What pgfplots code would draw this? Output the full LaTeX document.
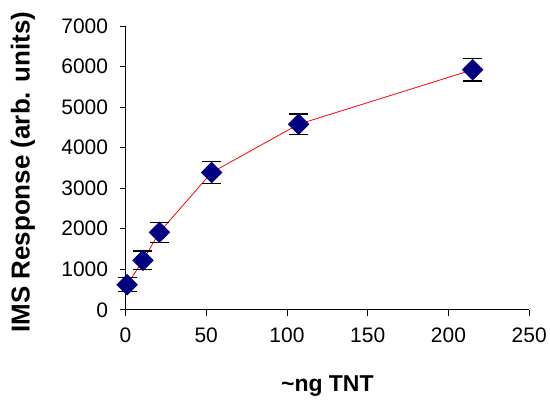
\documentclass[border=0pt]{standalone}
\usepackage{fontspec}
\setmainfont{Liberation Sans}
\usepackage{pgfplots}
\pgfplotsset{compat=1.18}
\definecolor{navy}{RGB}{0,0,128}
\begin{document}
\begin{tikzpicture}
\begin{axis}[
  scale only axis,
  width=404.3bp, height=284.3bp,
  xmin=0, xmax=250, ymin=0, ymax=7000,
  xtick={0,50,...,250}, ytick={0,1000,...,7000},
  axis lines=left,
  axis line style={line width=0.8bp, -},
  tick align=outside,
  major tick length=6bp,
  tick style={line width=0.8bp, black},
  clip=false,
  /pgf/number format/assume math mode=true,
  /pgf/number format/1000 sep={},
  tick label style={font=\fontsize{21bp}{25bp}\selectfont},
  xticklabel style={yshift=-9bp},
  yticklabel style={xshift=-8bp},
  xlabel={\textasciitilde ng TNT},
  ylabel={IMS Response (arb. units)},
  xlabel style={at={(axis description cs:0.5,-0.287)}, anchor=base, font=\fontsize{23bp}{27bp}\selectfont\bfseries},
  ylabel style={at={(axis description cs:-0.254,0.485)}, anchor=center, font=\fontsize{26bp}{30bp}\selectfont\bfseries},
]
\addplot[red, line width=0.8bp, mark=square*, mark size=7.2bp,
  mark options={rotate=45, fill=navy, draw=navy, solid},
  error bars/.cd, y dir=both, y explicit,
  error bar style={black, line width=1.3bp},
  error mark options={black, line width=1.3bp, mark size=9.5bp, rotate=90}]
  table[x=x, y=y, y error=e] {
  x     y     e
  1     620   175
  10.8  1220  230
  21    1911  245
  53.3  3385  270
  107.2 4576  250
  215   5920  275
};
\end{axis}
\path[use as bounding box] ([xshift=-125.7bp,yshift=-88.7bp]current axis.south west) rectangle ([xshift=20bp,yshift=26bp]current axis.north east);
\end{tikzpicture}
\end{document}
